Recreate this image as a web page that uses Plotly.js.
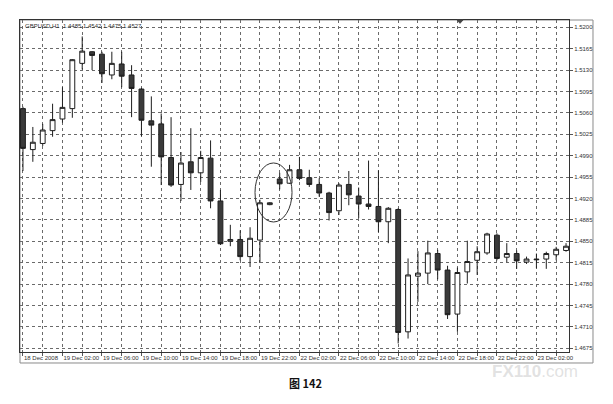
<!DOCTYPE html>
<html>
<head>
<meta charset="utf-8">
<script src="https://cdn.plot.ly/plotly-3.0.1.min.js"></script>
<style>
html,body{margin:0;padding:0;background:#fff;}
#chart{width:613px;height:404px;}
</style>
</head>
<body>
<div id="chart"></div>
<script>
// GBPUSD H1 bars, 18 Dec 2008 22:00 onward
var opens  = [1.5067,1.5000,1.5010,1.5031,1.5050,1.5067,1.5141,1.5160,1.5156,1.5122,1.5140,1.5122,1.5099,1.5047,1.5042,1.4987,1.4943,1.4980,1.4962,1.4986,1.4916,1.4850,1.4853,1.4825,1.4852,1.4910,1.4952,1.4945,1.4967,1.4954,1.4943,1.4929,1.4900,1.4943,1.4924,1.4911,1.4907,1.4882,1.4902,1.4702,1.4793,1.4798,1.4830,1.4803,1.4731,1.4800,1.4819,1.4831,1.4860,1.4824,1.4830,1.4816,1.4821,1.4821,1.4828,1.4835];
var highs  = [1.5070,1.5037,1.5042,1.5075,1.5102,1.5148,1.5185,1.5161,1.5160,1.5160,1.5160,1.5138,1.5101,1.5087,1.5059,1.5053,1.4996,1.5035,1.4998,1.5015,1.4934,1.4877,1.4868,1.4873,1.4918,1.4914,1.4962,1.4975,1.4988,1.4967,1.4953,1.4931,1.4945,1.4965,1.4938,1.4982,1.4966,1.4906,1.4904,1.4822,1.4834,1.4851,1.4836,1.4810,1.4807,1.4851,1.4842,1.4864,1.4863,1.4847,1.4835,1.4825,1.4830,1.4833,1.4841,1.4847];
var lows   = [1.4965,1.4980,1.5006,1.5021,1.5044,1.5052,1.5131,1.5130,1.5109,1.5115,1.5102,1.5053,1.5022,1.4972,1.4942,1.4939,1.4916,1.4934,1.4947,1.4904,1.4844,1.4842,1.4819,1.4808,1.4816,1.4909,1.4935,1.4944,1.4950,1.4939,1.4923,1.4884,1.4893,1.4909,1.4888,1.4902,1.4865,1.4847,1.4683,1.4691,1.4751,1.4780,1.4788,1.4723,1.4702,1.4781,1.4795,1.4828,1.4819,1.4816,1.4805,1.4813,1.4806,1.4805,1.4819,1.4833];
var closes = [1.5002,1.5012,1.5032,1.5049,1.5069,1.5147,1.5161,1.5154,1.5124,1.5141,1.5120,1.5100,1.5048,1.5040,1.4988,1.4942,1.4978,1.4962,1.4987,1.4916,1.4846,1.4853,1.4825,1.4855,1.4913,1.4913,1.4944,1.4967,1.4953,1.4943,1.4929,1.4897,1.4942,1.4926,1.4911,1.4907,1.4882,1.4904,1.4701,1.4795,1.4798,1.4831,1.4803,1.4730,1.4799,1.4817,1.4833,1.4862,1.4822,1.4830,1.4818,1.4821,1.4820,1.4830,1.4837,1.4842];

var timeLabelBars = [0,4,8,12,16,20,24,28,32,36,40,44,48,52];
var timeLabels = ["18 Dec 2008","19 Dec 02:00","19 Dec 06:00","19 Dec 10:00","19 Dec 14:00","19 Dec 18:00","19 Dec 22:00","22 Dec 02:00","22 Dec 06:00","22 Dec 10:00","22 Dec 14:00","22 Dec 18:00","22 Dec 22:00","23 Dec 02:00"];
var priceTicks = [1.4675,1.4710,1.4745,1.4780,1.4815,1.4850,1.4885,1.4920,1.4955,1.4990,1.5025,1.5060,1.5095,1.5130,1.5165,1.5200];
var chartTitle = "GBPUSD,H1  1.4485 1.4542 1.4475 1.4527";
var caption = "图 142";

var barIdx = opens.map(function(_, i){ return i; });

// gridlines every 2 bars, labels every 4 bars
var xTickVals = [], xTickText = [];
for (var i = 0; i < opens.length; i += 2) {
  xTickVals.push(i);
  var k = timeLabelBars.indexOf(i);
  xTickText.push(k >= 0 ? timeLabels[k] : "");
}

var trace = {
  type: 'candlestick',
  x: barIdx,
  open: opens, high: highs, low: lows, close: closes,
  increasing: {line: {color: '#1e1e1e', width: 1}, fillcolor: '#ffffff'},
  decreasing: {line: {color: '#1e1e1e', width: 1}, fillcolor: '#3a3a3a'},
  whiskerwidth: 0,
  hoverinfo: 'skip',
  showlegend: false
};

var fontFam = '"Liberation Sans", Arial, sans-serif';

var layout = {
  width: 613, height: 404,
  margin: {l: 20, r: 44, t: 20, b: 52},
  paper_bgcolor: '#ffffff',
  plot_bgcolor: '#ffffff',
  showlegend: false,
  font: {family: fontFam, size: 6, color: '#333'},
  xaxis: {
    type: 'linear',
    range: [-0.3, 55.3],
    rangeslider: {visible: false},
    tickmode: 'array', tickvals: xTickVals, ticktext: xTickText,
    tickangle: 0,
    ticklabelposition: 'outside right',
    ticks: 'outside', ticklen: 3, tickcolor: '#555',
    showgrid: true, gridcolor: '#6a6a6a', griddash: 'dot', gridwidth: 1,
    zeroline: false,
    showline: true, linecolor: '#333', linewidth: 1, mirror: true,
    tickfont: {family: fontFam, size: 6, color: '#333'}
  },
  yaxis: {
    side: 'right',
    range: [1.4669, 1.52119],
    tickmode: 'array', tickvals: priceTicks,
    ticktext: priceTicks.map(function(v){ return v.toFixed(4); }),
    ticks: 'outside', ticklen: 3, tickcolor: '#555',
    showgrid: true, gridcolor: '#6a6a6a', griddash: 'dot', gridwidth: 1,
    zeroline: false,
    showline: true, linecolor: '#333', linewidth: 1, mirror: true,
    tickfont: {family: fontFam, size: 6, color: '#333'}
  },
  shapes: [
    {type: 'rect', xref: 'paper', yref: 'paper', x0: 0, x1: 1.0437, y0: -0.0331, y1: 1,
     line: {color: '#8a8a8a', width: 1}, fillcolor: 'rgba(0,0,0,0)', layer: 'below'},
    {type: 'circle', xref: 'x', yref: 'y', x0: 23.5, x1: 27.25, y0: 1.48816, y1: 1.49781,
     line: {color: '#333', width: 1}, fillcolor: 'rgba(0,0,0,0)'},
    {type: 'path', xref: 'paper', yref: 'paper',
     path: 'M 0.7960 1.0 L 0.8070 1.0 L 0.8015 0.990 Z',
     fillcolor: '#444', line: {color: '#444', width: 1}}
  ],
  annotations: [
    {text: chartTitle, xref: 'paper', yref: 'paper', x: 0.006, y: 0.983,
     xanchor: 'left', yanchor: 'middle', showarrow: false,
     font: {family: fontFam, size: 6, color: '#333'}},
    {text: '<b>' + caption + '</b>', xref: 'paper', yref: 'paper', x: 0.52, y: -0.092,
     xanchor: 'center', yanchor: 'middle', showarrow: false,
     font: {family: '"Noto Sans CJK SC", sans-serif', size: 11, color: '#111'}},
    {text: '<b>FX110</b>.com', xref: 'paper', yref: 'paper', x: 1.02, y: -0.06,
     xanchor: 'right', yanchor: 'middle', showarrow: false,
     font: {family: fontFam, size: 17, color: 'rgba(190,190,190,0.45)'}}
  ]
};

Plotly.newPlot('chart', [trace], layout, {displayModeBar: false, staticPlot: true});
</script>
</body>
</html>
